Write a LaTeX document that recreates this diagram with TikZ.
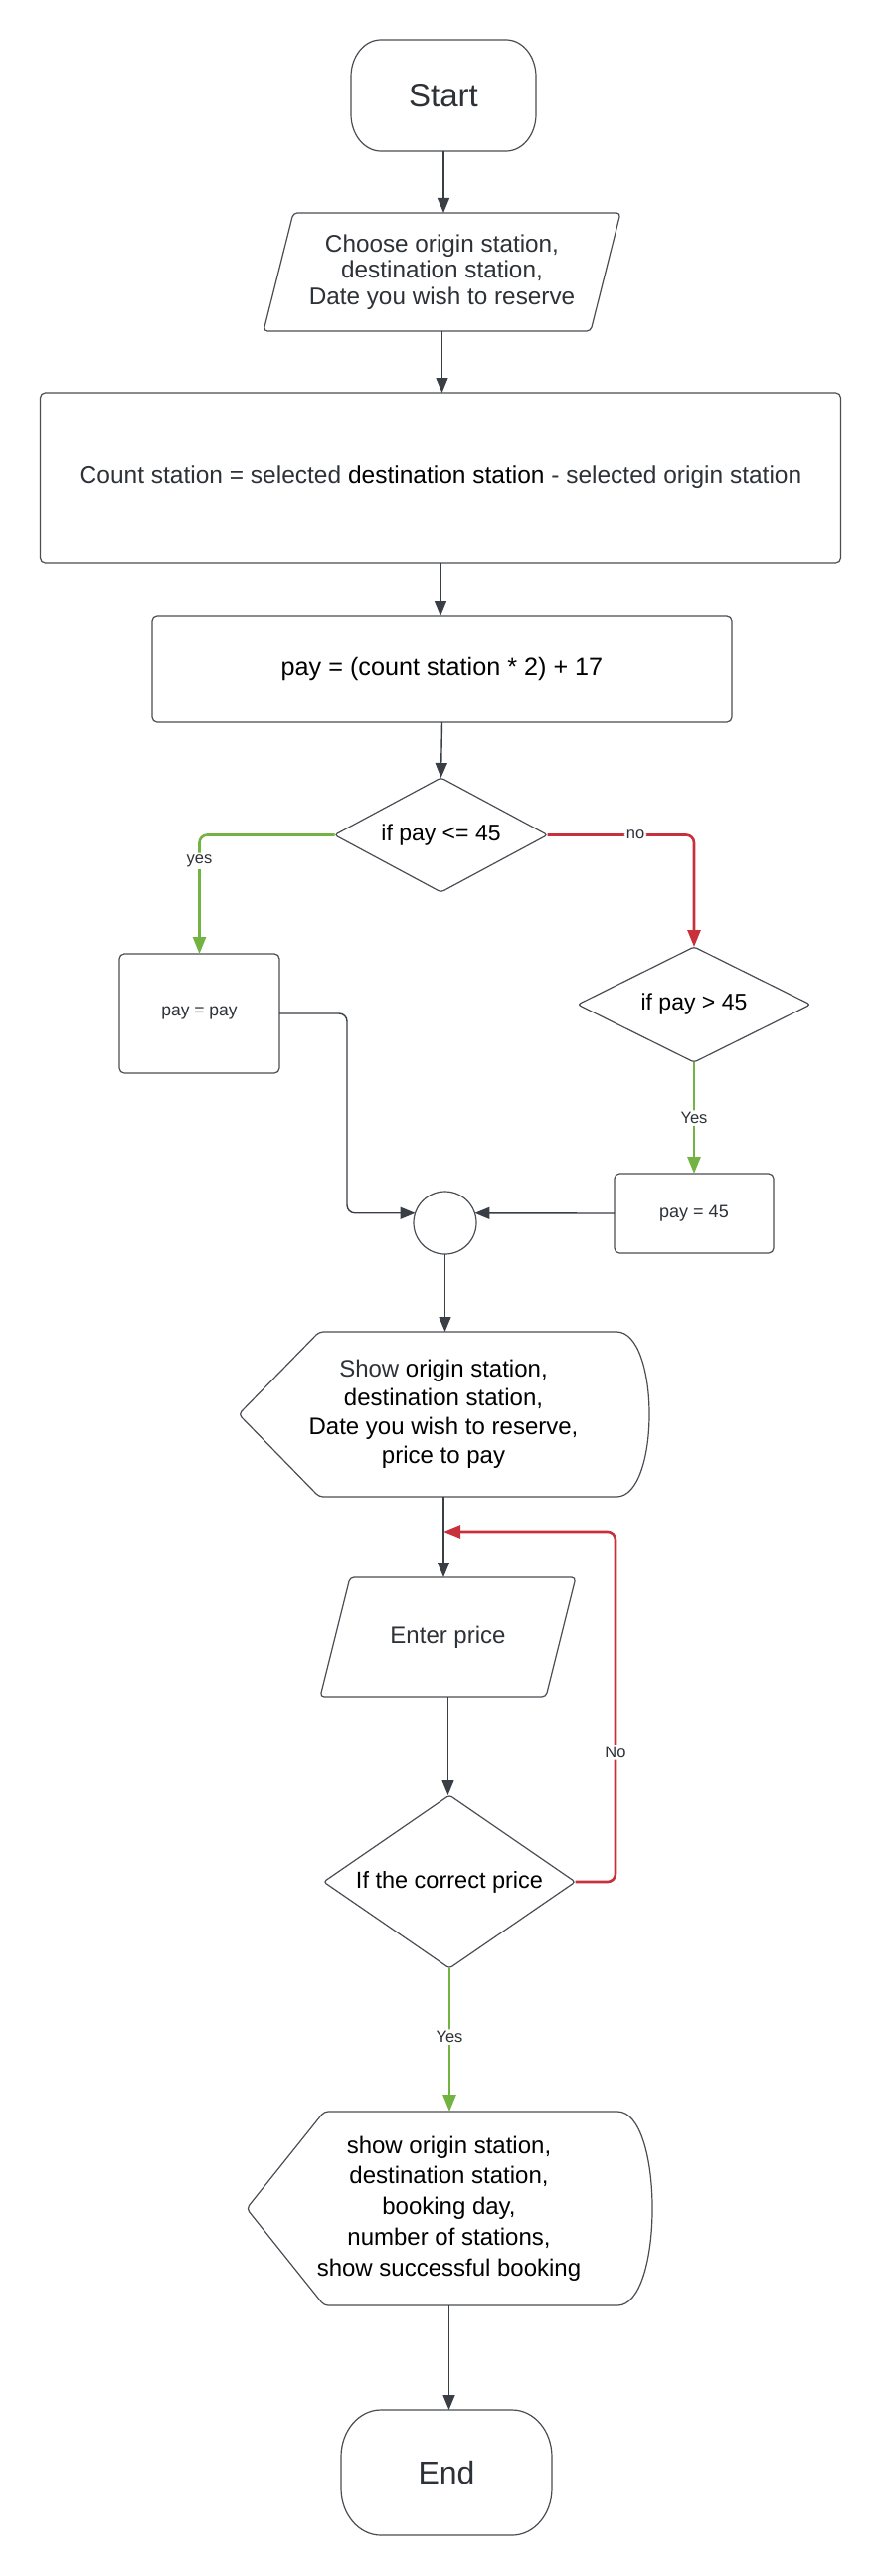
\documentclass[tikz,border=0pt]{standalone}
\usepackage{fontspec}
\setmainfont{Liberation Sans}
\usetikzlibrary{arrows.meta,calc}

\definecolor{edge}{HTML}{4A4E54}
\definecolor{ink}{HTML}{3A3F46}
\definecolor{txt}{HTML}{2D3238}
\definecolor{okgreen}{HTML}{72B341}
\definecolor{nored}{HTML}{C8303B}

\tikzset{
  base/.style={inner sep=0pt, outer sep=0pt, align=center, text=txt},
  box/.style={base, draw=edge, line width=1.2pt, rounded corners=5pt},
  frame/.style={base},
  outline/.style={draw=edge, line width=1.2pt, rounded corners=4pt},
  flow/.style={draw=ink, line width=1.4pt, rounded corners=8pt,
    -{Triangle[length=15pt,width=12pt]}},
  yesflow/.style={flow, draw=okgreen, line width=2.6pt,
    -{Triangle[length=17pt,width=13pt]}},
  noflow/.style={flow, draw=nored, line width=2.6pt,
    -{Triangle[length=17pt,width=13pt]}},
  lab/.style={fill=white, text=txt, inner sep=2pt,
    font=\fontsize{16.5pt}{18pt}\selectfont},
}

% terminal outline with elliptical corners: node, x radius, y radius
\newcommand{\drawterminal}[3]{%
  \draw[draw=edge, line width=1.2pt]
    ([xshift=#2]#1.north west) -- ([xshift=-#2]#1.north east)
    .. controls ([xshift=-0.448*#2]#1.north east) and ([yshift=-0.448*#3]#1.north east)
    .. ([yshift=-#3]#1.north east) -- ([yshift=#3]#1.south east)
    .. controls ([yshift=0.448*#3]#1.south east) and ([xshift=-0.448*#2]#1.south east)
    .. ([xshift=-#2]#1.south east) -- ([xshift=#2]#1.south west)
    .. controls ([xshift=0.448*#2]#1.south west) and ([yshift=0.448*#3]#1.south west)
    .. ([yshift=#3]#1.south west) -- ([yshift=-#3]#1.north west)
    .. controls ([yshift=-0.448*#3]#1.north west) and ([xshift=0.448*#2]#1.north west)
    .. cycle;}

\begin{document}
\begin{tikzpicture}[x=1pt,y=-1pt]
\useasboundingbox[fill=white] (0,0) rectangle (885,2590);

% ---- nodes ----
\node[frame, minimum width=186pt, minimum height=112pt,
  font=\fontsize{33pt}{36pt}\selectfont] (start) at (446,96) {Start};
\drawterminal{start}{30pt}{37pt}

\node[frame, minimum width=329pt, minimum height=119pt,
  font=\fontsize{24.3pt}{26.5pt}\selectfont] (choose) at (444.5,273.5)
  {Choose origin station,\\destination station,\\Date you wish to reserve};
\draw[outline] ([xshift=15pt]choose.north west) -- ([xshift=15pt]choose.north east)
  -- ([xshift=-15pt]choose.south east) -- ([xshift=-15pt]choose.south west) -- cycle;

\node[box, minimum width=805pt, minimum height=171pt,
  font=\fontsize{24.5pt}{28pt}\selectfont] (count) at (443,480.5)
  {Count station = selected \textcolor{black}{destination station} - selected origin station};

\node[box, minimum width=583pt, minimum height=107pt, text=black,
  font=\fontsize{25.2pt}{28pt}\selectfont] (pay) at (444.5,672.5)
  {pay = (count station * 2) + 17};

\node[frame, minimum width=214pt, minimum height=115pt, text=black,
  font=\fontsize{23pt}{27pt}\selectfont] (d1) at (443.5,839.5) {if pay <= 45};
\draw[outline, rounded corners=3pt] (d1.north) -- (d1.east) -- (d1.south) -- (d1.west) -- cycle;

\node[box, minimum width=161pt, minimum height=120pt,
  font=\fontsize{17.5pt}{20pt}\selectfont] (ppay) at (200.5,1019) {pay = pay};

\node[frame, minimum width=234pt, minimum height=116pt, text=black,
  font=\fontsize{23pt}{27pt}\selectfont] (d2) at (698,1010) {if pay > 45};
\draw[outline, rounded corners=3pt] (d2.north) -- (d2.east) -- (d2.south) -- (d2.west) -- cycle;

\node[box, minimum width=160pt, minimum height=80pt,
  font=\fontsize{18pt}{21pt}\selectfont] (pay45) at (698,1220) {pay = 45};

\node[circle, draw=edge, line width=1.2pt, minimum size=63pt, inner sep=0pt,
  outer sep=0pt] (merge) at (447.5,1229.5) {};

\node[frame, minimum width=412pt, minimum height=166pt,
  font=\fontsize{24pt}{29pt}\selectfont] (show1) at (446,1422)
  {Show \textcolor{black}{origin station,}\\\textcolor{black}{destination station,}\\
   \textcolor{black}{Date you wish to reserve,}\\\textcolor{black}{price to pay}};
\draw[outline] (show1.west) -- ([xshift=81pt]show1.north west)
  -- ([xshift=-36pt]show1.north east)
  .. controls ([xshift=12pt]show1.north east) and ([xshift=12pt]show1.south east)
  .. ([xshift=-36pt]show1.south east)
  -- ([xshift=81pt]show1.south west) -- cycle;

\node[frame, minimum width=227pt, minimum height=120pt,
  font=\fontsize{24pt}{28pt}\selectfont] (enter) at (450.5,1646) {Enter price};
\draw[outline] ([xshift=15pt]enter.north west) -- ([xshift=15pt]enter.north east)
  -- ([xshift=-15pt]enter.south east) -- ([xshift=-15pt]enter.south west) -- cycle;

\node[frame, minimum width=253pt, minimum height=174pt, text=black,
  font=\fontsize{23.5pt}{27pt}\selectfont] (d3) at (452,1892) {If the correct price};
\draw[outline, rounded corners=3pt] (d3.north) -- (d3.east) -- (d3.south) -- (d3.west) -- cycle;

\node[frame, minimum width=407pt, minimum height=195pt, text=black,
  font=\fontsize{24pt}{30.8pt}\selectfont] (show2) at (451.5,2220.5)
  {show origin station,\\destination station,\\booking day,\\number of stations,\\show successful booking};
\draw[outline] (show2.west) -- ([xshift=78pt]show2.north west)
  -- ([xshift=-38pt]show2.north east)
  .. controls ([xshift=12.7pt]show2.north east) and ([xshift=12.7pt]show2.south east)
  .. ([xshift=-38pt]show2.south east)
  -- ([xshift=78pt]show2.south west) -- cycle;

\node[frame, minimum width=212pt, minimum height=126pt,
  font=\fontsize{32pt}{36pt}\selectfont] (finish) at (449,2486) {End};
\drawterminal{finish}{40pt}{47pt}

% point where the retry loop rejoins the flow
\coordinate (back) at (446,1540);

% ---- connectors ----
\draw[flow] (start.south) -- (start.south |- choose.north);
\draw[flow] (choose.south) -- (choose.south |- count.north);
\draw[flow] (count.south) -- (count.south |- pay.north);
\draw[flow] (pay.south) -- (d1.north);
\draw[yesflow] (d1.west) -| node[lab, pos=0.61] {yes} (ppay.north);
\draw[noflow] (d1.east) -| node[lab, pos=0.3] {no} (d2.north);
\draw[yesflow] (d2.south) -- node[lab] {Yes} (pay45.north);
\draw[flow] (ppay.east) -- ++(68,0) |- (merge.162);
\draw[flow] (pay45.west) -- (merge.18);
\draw[flow] (merge.south) -- (merge.south |- show1.north);
\draw[flow] (show1.south) -- (show1.south |- enter.north);
\draw[flow] (enter.south) -- (enter.south |- d3.north);
\draw[noflow] (d3.east) -- ++(40.5,0) |- node[lab, pos=0.185] {No} (back);
\draw[yesflow] (d3.south) -- node[lab, pos=0.48] {Yes} (d3.south |- show2.north);
\draw[flow] (show2.south) -- (show2.south |- finish.north);
\end{tikzpicture}
\end{document}
